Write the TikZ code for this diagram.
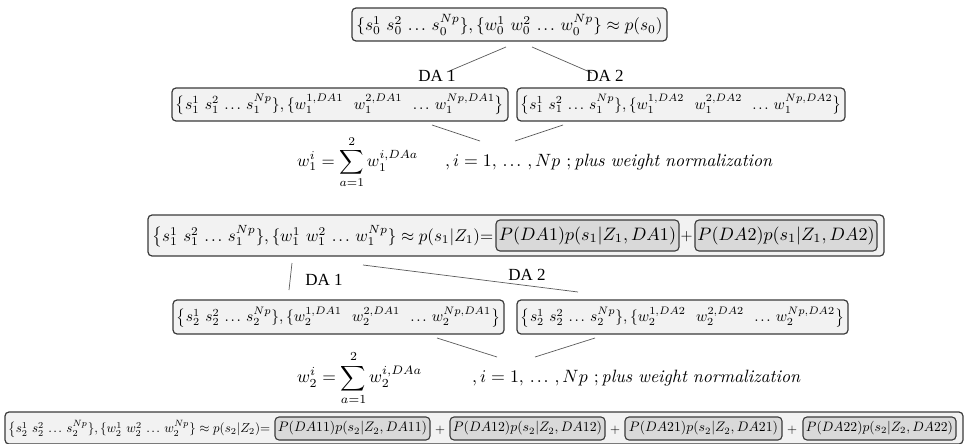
\documentclass[tikz,border=0pt]{standalone}
\usepackage{fontspec}
\usepackage{graphicx}
\usepackage{amsmath}
\newfontfamily\dafont{Liberation Serif}
\newcommand{\fitw}[2]{\resizebox{#1}{!}{$#2$}}
\newcommand{\tdots}{\,\mathinner{.\mkern2mu.\mkern2mu.}\,}
\definecolor{outerfill}{HTML}{F2F2F2}
\definecolor{innerfill}{HTML}{D9D9D9}
\definecolor{boxline}{HTML}{3A3A3A}
\definecolor{linkcol}{HTML}{5A5A5A}
\tikzset{
  outerbox/.style={draw=boxline, fill=outerfill, rounded corners=4pt, line width=1.2pt, inner sep=0pt},
  innerbox/.style={draw=boxline, fill=innerfill, rounded corners=4pt, line width=1.1pt, inner sep=0pt},
  txt/.style={inner sep=0pt, text=black},
  link/.style={draw=linkcol, line width=0.7pt},
  dalabel/.style={inner sep=0pt, font=\dafont\fontsize{17}{17}\selectfont}
}
\begin{document}
\begin{tikzpicture}[x=1pt,y=-1pt]
\useasboundingbox (0,0) rectangle (964,444);
% Row 1
\node[outerbox, minimum width=315pt, minimum height=33pt] (r1) at (509.5,24.5) {};
\node[txt] (r1t) at (r1.center) {\fitw{306pt}{\{s_0^1\ s_0^2\tdots s_0^{Np}\},\{w_0^1\ w_0^2\tdots w_0^{Np}\}\approx p(s_0)}};
\coordinate (a1s) at (506,47); \coordinate (a1e) at (447,72);
\coordinate (a2s) at (532,47); \coordinate (a2e) at (592,73);
\draw[link] (a1s) -- (a1e);
\draw[link] (a2s) -- (a2e);
\node[dalabel] (da1a) at (437,76) {DA 1};
\node[dalabel] (da2a) at (605,76) {DA 2};
% Row 2
\node[outerbox, minimum width=336pt, minimum height=33pt] (r2l) at (340,104.5) {};
\node[txt] (r2lt) at (r2l.center) {\fitw{328pt}{\bigl\{s_1^1\ s_1^2\tdots s_1^{Np}\},\{w_1^{1,DA1}\ \ w_1^{2,DA1}\ \tdots w_1^{Np,DA1}\bigr\}}};
\node[outerbox, minimum width=328pt, minimum height=33pt] (r2r) at (681,104.5) {};
\node[txt] (r2rt) at (r2r.center) {\fitw{321pt}{\bigl\{s_1^1\ s_1^2\tdots s_1^{Np}\},\{w_1^{1,DA2}\ \ w_1^{2,DA2}\ \tdots w_1^{Np,DA2}\bigr\}}};
\coordinate (b1s) at (432,125); \coordinate (b1e) at (480,141);
\coordinate (b2s) at (515,141); \coordinate (b2e) at (563,125);
\draw[link] (b1s) -- (b1e);
\draw[link] (b2s) -- (b2e);
% Equation 1
\node[txt, anchor=west] (eq1a) at (297,162) {\fitw{121pt}{\displaystyle w_1^i=\sum_{a=1}^{2}w_1^{i,DAa}}};
\node[txt, anchor=west] (eq1b) at (445,162) {\fitw{327pt}{,i=1,\tdots,Np\ ;\mathit{plus\ weight\ normalization}}};
% Row 3
\node[outerbox, minimum width=736pt, minimum height=41pt] (r3) at (516,235.5) {};
\node[txt, anchor=west] (r3t) at (152,236) {\fitw{341pt}{\bigl\{s_1^1\ s_1^2\tdots s_1^{Np}\},\{w_1^1\ w_1^2\tdots w_1^{Np}\}\approx p(s_1|Z_1)\text{=}}};
\node[innerbox, minimum width=183pt, minimum height=31pt] (r3a) at (587.5,235.5) {};
\node[txt] (r3at) at (r3a.center) {\fitw{177pt}{P(DA1)p(s_1|Z_1,DA1)}};
\node[txt] (r3p) at (686.5,237) {\fitw{12pt}{+}};
\node[innerbox, minimum width=182pt, minimum height=31pt] (r3b) at (786,235.5) {};
\node[txt] (r3bt) at (r3b.center) {\fitw{177pt}{P(DA2)p(s_1|Z_1,DA2)}};
% links below row 3
\coordinate (c1s) at (292,263); \coordinate (c1e) at (289,290);
\coordinate (c2s) at (363,265); \coordinate (c2e) at (578,292);
\draw[link] (c1s) -- (c1e);
\draw[link] (c2s) -- (c2e);
\node[dalabel] (da1b) at (324,280) {DA 1};
\node[dalabel] (da2b) at (527,275) {DA 2};
% Row 4
\node[outerbox, minimum width=331pt, minimum height=34pt] (r4l) at (338.5,317) {};
\node[txt] (r4lt) at (r4l.center) {\fitw{323pt}{\bigl\{s_2^1\ s_2^2\tdots s_2^{Np}\},\{w_2^{1,DA1}\ \ w_2^{2,DA1}\ \tdots w_2^{Np,DA1}\bigr\}}};
\node[outerbox, minimum width=331pt, minimum height=34pt] (r4r) at (682.5,317) {};
\node[txt] (r4rt) at (r4r.center) {\fitw{323pt}{\bigl\{s_2^1\ s_2^2\tdots s_2^{Np}\},\{w_2^{1,DA2}\ \ w_2^{2,DA2}\ \tdots w_2^{Np,DA2}\bigr\}}};
\coordinate (d1s) at (437,338); \coordinate (d1e) at (497,357);
\coordinate (d2s) at (535,357); \coordinate (d2e) at (595,338);
\draw[link] (d1s) -- (d1e);
\draw[link] (d2s) -- (d2e);
% Equation 2
\node[txt, anchor=west] (eq2a) at (297,378) {\fitw{125pt}{\displaystyle w_2^i=\sum_{a=1}^{2}w_2^{i,DAa}}};
\node[txt, anchor=west] (eq2b) at (472,378) {\fitw{328pt}{,i=1,\tdots,Np\ ;\mathit{plus\ weight\ normalization}}};
% Row 5
\node[outerbox, minimum width=958pt, minimum height=32pt] (r5) at (484,428) {};
\node[txt, anchor=west] (r5t) at (8,429) {\fitw{262pt}{\bigl\{s_2^1\ s_2^2\tdots s_2^{Np}\},\{w_2^1\ w_2^2\tdots w_2^{Np}\}\approx p(s_2|Z_2)\text{=}}};
\node[innerbox, minimum width=155pt, minimum height=23pt] (r5a) at (352.5,428.5) {};
\node[txt] (r5at) at (r5a.center) {\fitw{149pt}{P(DA11)p(s_2|Z_2,DA11)}};
\node[txt] (r5p1) at (440,430) {\fitw{10pt}{+}};
\node[innerbox, minimum width=155pt, minimum height=23pt] (r5b) at (527.5,428.5) {};
\node[txt] (r5bt) at (r5b.center) {\fitw{149pt}{P(DA12)p(s_2|Z_2,DA12)}};
\node[txt] (r5p2) at (615,430) {\fitw{10pt}{+}};
\node[innerbox, minimum width=157pt, minimum height=23pt] (r5c) at (703.5,428.5) {};
\node[txt] (r5ct) at (r5c.center) {\fitw{149pt}{P(DA21)p(s_2|Z_2,DA21)}};
\node[txt] (r5p3) at (792,430) {\fitw{10pt}{+}};
\node[innerbox, minimum width=153pt, minimum height=23pt] (r5d) at (879.5,428.5) {};
\node[txt] (r5dt) at (r5d.center) {\fitw{147pt}{P(DA22)p(s_2|Z_2,DA22)}};
\end{tikzpicture}
\end{document}
